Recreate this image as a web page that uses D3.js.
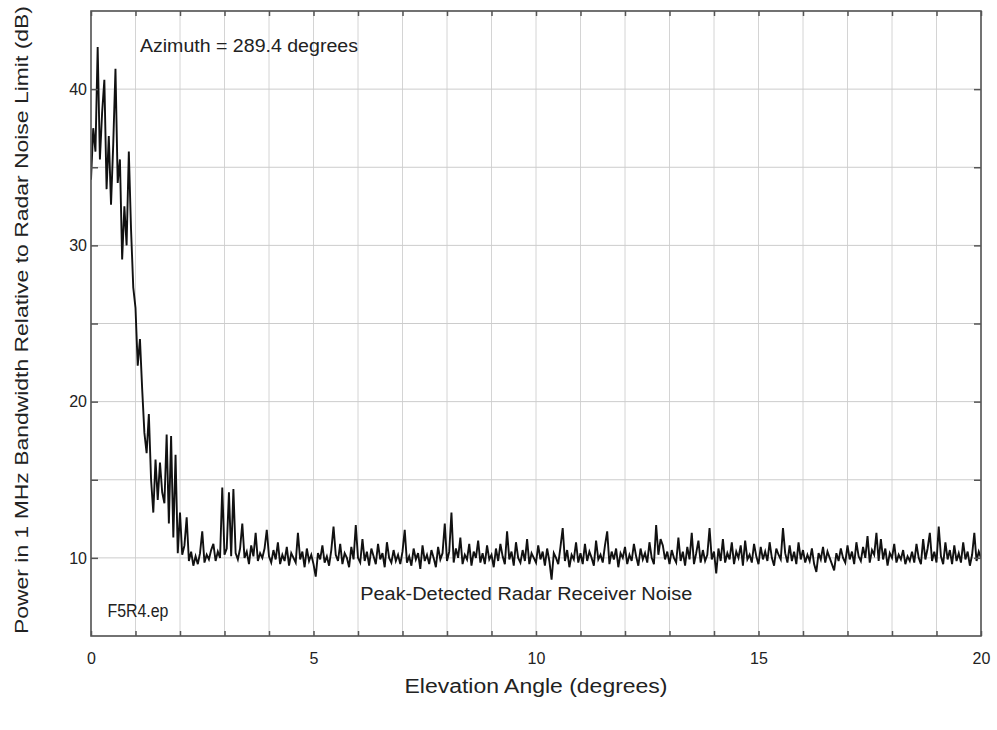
<!DOCTYPE html>
<html>
<head>
<meta charset="utf-8">
<script src="https://cdn.jsdelivr.net/npm/d3@7"></script>
<style>
  html, body { margin: 0; padding: 0; background: #fff; }
  svg { display: block; }
  text { font-family: "Liberation Sans", Arial, Helvetica, sans-serif; fill: #222; }
</style>
</head>
<body>
<svg id="chart" width="997" height="730"></svg>
<script>
// ---- data ----
const elevationStart = 0;      // degrees
const elevationStep = 0.05;    // degrees between samples
const power = [
  34.2, 37.5, 36.0, 42.7, 35.5, 38.5, 40.6, 33.6, 37.0, 32.6, 36.5, 41.3, 34.0, 35.5, 29.1, 32.5, 30.0, 36.0, 31.0, 27.3,
  26.0, 22.3, 24.0, 20.8, 18.0, 16.7, 19.2, 15.0, 12.9, 16.3, 13.7, 16.1, 14.2, 13.5, 17.9, 12.2, 17.8, 11.3, 16.6, 10.3,
  12.9, 10.2, 10.8, 12.6, 9.8, 10.4, 9.5, 10.1, 9.6, 10.3, 11.7, 9.7, 10.2, 9.9, 10.5, 10.9, 9.8, 10.4, 10.0, 14.5,
  10.2, 10.6, 14.2, 10.1, 14.4, 10.3, 9.9, 10.6, 12.2, 10.0, 10.4, 9.6, 10.8, 10.1, 11.6, 9.8, 10.3, 10.0, 10.6, 11.8,
  10.1, 9.7, 10.5, 9.9, 11.0, 9.6, 10.2, 9.8, 10.7, 9.5, 10.3, 10.0, 9.7, 11.6, 9.9, 10.4, 9.4, 10.6, 9.8, 10.2,
  9.6, 8.8, 10.3, 9.9, 10.8, 9.7, 10.1, 9.5, 10.5, 12.0, 10.2, 9.8, 10.9, 9.6, 10.3, 10.0, 9.4, 10.7, 9.9, 12.1,
  10.0, 9.7, 11.2, 9.8, 10.4, 9.5, 10.6, 10.1, 9.6, 10.9, 9.9, 10.3, 9.4, 11.0, 10.0, 9.7, 10.5, 9.8, 10.2, 9.6,
  10.4, 11.8, 9.7, 10.1, 9.5, 10.6, 9.9, 10.3, 9.3, 10.8, 9.8, 10.2, 9.6, 10.5, 10.0, 9.4, 10.7, 9.9, 10.3, 12.2,
  9.8, 10.4, 12.9, 9.7, 10.6, 10.0, 11.3, 9.6, 10.2, 9.9, 10.9, 9.5, 10.4, 10.0, 11.1, 9.7, 10.3, 9.6, 10.8, 9.9,
  10.2, 9.4, 10.6, 9.8, 10.9, 10.1, 9.6, 11.7, 9.9, 10.4, 9.5, 11.0, 10.0, 9.7, 10.5, 9.8, 11.2, 9.6, 10.3, 10.0,
  9.7, 10.8, 9.9, 10.4, 9.5, 10.6, 9.8, 8.6, 10.3, 10.0, 9.6, 10.7, 11.9, 9.8, 10.5, 9.4, 10.2, 9.9, 11.0, 9.7,
  10.3, 9.6, 10.9, 9.8, 10.4, 10.0, 9.5, 11.1, 9.9, 10.2, 9.7, 10.8, 11.7, 9.6, 10.4, 9.9, 10.6, 9.4, 10.3, 10.0,
  10.7, 9.6, 10.2, 9.8, 10.9, 10.1, 9.5, 10.6, 9.9, 10.3, 9.7, 11.0, 10.0, 9.6, 12.1, 10.2, 11.2, 10.8, 9.9, 10.4,
  9.6, 10.5, 10.0, 9.7, 11.3, 9.8, 10.4, 9.5, 10.7, 9.9, 11.6, 9.6, 10.3, 11.1, 9.7, 10.5, 9.8, 10.2, 11.9, 9.9,
  10.4, 9.0, 10.6, 9.8, 11.2, 9.7, 10.3, 9.9, 11.0, 9.6, 10.4, 10.0, 10.8, 9.5, 11.1, 9.9, 10.2, 9.7, 10.9, 10.1,
  9.6, 10.7, 9.9, 10.4, 9.8, 11.0, 10.0, 9.5, 10.6, 10.2, 9.9, 11.9, 10.3, 9.7, 10.8, 9.8, 10.4, 9.6, 11.0, 9.9,
  10.5, 9.7, 10.2, 9.8, 10.6, 9.6, 9.1, 10.3, 9.9, 10.7, 9.7, 10.4, 10.0, 9.6, 9.2, 10.3, 9.8, 10.6, 10.0, 9.7,
  10.8, 9.9, 10.4, 9.6, 11.0, 10.1, 9.8, 10.7, 10.0, 11.4, 9.7, 10.5, 10.2, 11.6, 9.8, 11.2, 9.9, 10.6, 9.5, 10.3,
  10.0, 10.9, 9.7, 10.2, 9.9, 10.5, 9.6, 10.1, 9.8, 10.4, 9.7, 10.9, 10.0, 9.6, 11.2, 9.9, 10.6, 11.6, 9.8, 10.4,
  9.7, 12.0, 10.1, 9.6, 11.0, 9.9, 10.5, 9.6, 10.8, 9.8, 10.3, 9.7, 11.0, 9.9, 10.4, 9.5, 10.2, 11.6, 9.8, 10.4,
  10.0
];
const xTickLabels = [0, 5, 10, 15, 20];
const yTickLabels = [10, 20, 30, 40];
const xMinorTicks = d3.range(0, 21, 1);
const yMinorTicks = [5, 10, 15, 20, 25, 30, 35, 40, 45];
const xTitle = "Elevation Angle (degrees)";
const yTitle = "Power in 1 MHz Bandwidth Relative to Radar Noise Limit (dB)";
const annotations = [
  { text: "Azimuth = 289.4 degrees", x: 1.1, y: 42.4, size: 18, len: 218 },
  { text: "Peak-Detected Radar Receiver Noise", x: 6.05, y: 7.3, size: 18, len: 332 },
  { text: "F5R4.ep", x: 0.37, y: 6.2, size: 17.5, len: 61 }
];

// ---- layout ----
const svg = d3.select("#chart");
const margin = { left: 91, right: 16, top: 11, bottom: 94 };
const W = 997, H = 730;
const x = d3.scaleLinear().domain([0, 20]).range([margin.left, W - margin.right]);
const y = d3.scaleLinear().domain([5, 45]).range([H - margin.bottom, margin.top]);

const data = power.map((v, i) => ({ e: elevationStart + i * elevationStep, p: v }));

// grid
const grid = svg.append("g");
grid.selectAll("line.vx").data(xMinorTicks).join("line")
  .attr("x1", d => x(d)).attr("x2", d => x(d))
  .attr("y1", y(45)).attr("y2", y(5))
  .attr("stroke", "#d4d4d4").attr("stroke-width", 1);
grid.selectAll("line.hy").data(yMinorTicks).join("line")
  .attr("x1", x(0)).attr("x2", x(20))
  .attr("y1", d => y(d)).attr("y2", d => y(d))
  .attr("stroke", "#cccccc").attr("stroke-width", 1);

// data line
svg.append("clipPath").attr("id", "clip").append("rect")
  .attr("x", x(0)).attr("y", y(45)).attr("width", x(20) - x(0)).attr("height", y(5) - y(45));
svg.append("path")
  .datum(data)
  .attr("clip-path", "url(#clip)")
  .attr("fill", "none")
  .attr("stroke", "#111")
  .attr("stroke-width", 1.9)
  .attr("stroke-linejoin", "miter")
  .attr("d", d3.line().x(d => x(d.e)).y(d => y(d.p)));

// axes (inward ticks)
const axColor = "#555";
function styleAxis(g) {
  g.select(".domain").remove();
  g.selectAll(".tick line").attr("stroke", axColor).attr("stroke-width", 1.5);
  g.selectAll(".tick text").attr("font-size", 16).attr("fill", "#333")
    .attr("font-family", "'Liberation Sans', Arial, sans-serif");
}
svg.append("g").attr("transform", `translate(0,${y(5)})`)
  .call(d3.axisBottom(x).tickValues(xMinorTicks).tickSize(-5).tickPadding(17)
    .tickFormat(d => xTickLabels.includes(d) ? d : ""))
  .call(styleAxis);
svg.append("g").attr("transform", `translate(0,${y(45)})`)
  .call(d3.axisTop(x).tickValues(xMinorTicks).tickSize(-5).tickFormat(""))
  .call(styleAxis);
svg.append("g").attr("transform", `translate(${x(0)},0)`)
  .call(d3.axisLeft(y).tickValues(yMinorTicks.filter(d => d > 5 && d < 45)).tickSize(-7).tickPadding(4)
    .tickFormat(d => yTickLabels.includes(d) ? d : ""))
  .call(styleAxis);
svg.append("g").attr("transform", `translate(${x(20)},0)`)
  .call(d3.axisRight(y).tickValues(yMinorTicks.filter(d => d > 5 && d < 45)).tickSize(-7).tickFormat(""))
  .call(styleAxis);

// frame
svg.append("rect")
  .attr("x", x(0)).attr("y", y(45))
  .attr("width", x(20) - x(0)).attr("height", y(5) - y(45))
  .attr("fill", "none").attr("stroke", axColor).attr("stroke-width", 1.6);

// titles
svg.append("text")
  .attr("x", 536).attr("y", 693)
  .attr("text-anchor", "middle").attr("font-size", 20).attr("fill", "#222")
  .attr("textLength", 263).attr("lengthAdjust", "spacingAndGlyphs")
  .text(xTitle);
svg.append("text")
  .attr("transform", `translate(28,${(y(5) + 4) / 2}) rotate(-90)`)
  .attr("text-anchor", "middle").attr("font-size", 18).attr("fill", "#222")
  .attr("textLength", 628).attr("lengthAdjust", "spacingAndGlyphs")
  .text(yTitle);

// annotations
svg.selectAll("text.ann").data(annotations).join("text")
  .attr("class", "ann")
  .attr("x", d => x(d.x)).attr("y", d => y(d.y))
  .attr("font-size", d => d.size).attr("fill", "#222")
  .attr("textLength", d => d.len).attr("lengthAdjust", "spacingAndGlyphs")
  .text(d => d.text);
</script>
</body>
</html>
